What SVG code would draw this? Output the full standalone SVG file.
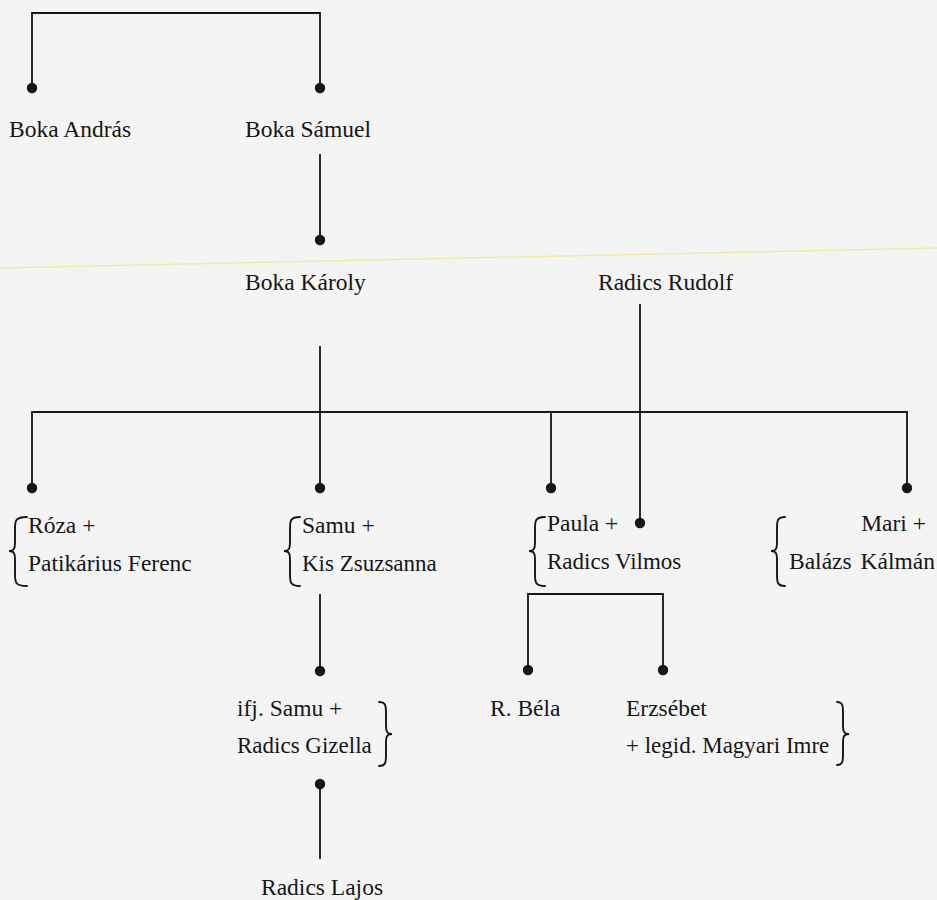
<svg xmlns="http://www.w3.org/2000/svg" width="937" height="900" viewBox="0 0 937 900">
<style>
.ln{stroke:#161616;stroke-width:1.8;fill:none;stroke-linecap:square}
.br{stroke:#161616;stroke-width:1.9;fill:none;stroke-linecap:round}
.dot{fill:#161616}
text{font-family:"Liberation Serif","Times New Roman",serif;font-size:23.5px;fill:#161616}
.sm{font-size:23px}
</style>
<rect x="0" y="0" width="937" height="900" fill="#f4f4f4"/>
<path d="M0,268 L937,248" stroke="#f3e9a6" stroke-width="1.5" fill="none"/>
<g id="connectors">
<path class="ln" d="M32,13 H320 M32,13 V88 M320,13 V88"/>
<path class="ln" d="M320,155 V240"/>
<path class="ln" d="M320,347 V412 M640,305 V523"/>
<path class="ln" d="M32,412 H907 M32,412 V488 M320,412 V488 M551,412 V488 M907,412 V488"/>
<path class="ln" d="M320,595 V671"/>
<path class="ln" d="M528,594 H663 M528,594 V670 M663,594 V670"/>
<path class="ln" d="M320,784 V858"/>
<g class="dot">
<circle cx="32" cy="88" r="5.2"/>
<circle cx="320" cy="88" r="5.2"/>
<circle cx="320" cy="240" r="5.2"/>
<circle cx="32" cy="488" r="5.2"/>
<circle cx="320" cy="488" r="5.2"/>
<circle cx="551" cy="488" r="5.2"/>
<circle cx="907" cy="488" r="5.2"/>
<circle cx="640" cy="523" r="5.2"/>
<circle cx="320" cy="671" r="5.2"/>
<circle cx="528" cy="670" r="5.2"/>
<circle cx="663" cy="670" r="5.2"/>
<circle cx="320" cy="784" r="5.2"/>
</g>
</g>
<g id="boka-andras"><text x="9" y="137" font-size="24.5">Boka András</text></g>
<g id="boka-samuel"><text x="245" y="137">Boka Sámuel</text></g>
<g id="boka-karoly"><text x="245" y="290">Boka Károly</text></g>
<g id="radics-rudolf"><text x="598" y="290">Radics Rudolf</text></g>
<g id="roza">
<path class="br" d="M27,517 C15,517 15,521 15,529 L15,541 C15,547 15,551 9,551 C15,551 15,555 15,561 L15,574 C15,582 15,586 27,586"/>
<text x="28" y="533">Róza +</text>
<text x="28" y="571">Patikárius Ferenc</text>
</g>
<g id="samu">
<path class="br" d="M300,517 C290,517 290,521 290,529 L290,541 C290,547 290,551 284,551 C290,551 290,555 290,561 L290,574 C290,582 290,586 300,586"/>
<text x="302" y="533">Samu +</text>
<text x="302" y="571" class="sm">Kis Zsuzsanna</text>
</g>
<g id="paula">
<path class="br" d="M545,517 C535,517 535,521 535,529 L535,541 C535,547 535,551 529,551 C535,551 535,555 535,561 L535,574 C535,582 535,586 545,586"/>
<text x="547" y="531">Paula +</text>
<text x="547" y="569" class="sm">Radics Vilmos</text>
</g>
<g id="mari">
<path class="br" d="M785,517 C777,517 777,521 777,529 L777,541 C777,547 777,551 771,551 C777,551 777,555 777,561 L777,574 C777,582 777,586 785,586"/>
<text x="926" y="531" text-anchor="end">Mari +</text>
<text x="789" y="569">Balázs</text>
<text x="935" y="569" text-anchor="end">Kálmán</text>
</g>
<g id="ifj-samu">
<text x="237" y="716">ifj. Samu +</text>
<text x="237" y="753" class="sm">Radics Gizella</text>
<path class="br" d="M379,702 C386,702 386,706 386,714 L386,724 C386,730 386,734 392,734 C386,734 386,738 386,744 L386,754 C386,762 386,766 379,766"/>
</g>
<g id="r-bela"><text x="490" y="716">R. Béla</text></g>
<g id="erzsebet">
<text x="626" y="716">Erzsébet</text>
<text x="626" y="753" class="sm">+ legid. Magyari Imre</text>
<path class="br" d="M837,702 C843,702 843,706 843,714 L843,724 C843,730 843,734 849,734 C843,734 843,738 843,744 L843,753 C843,761 843,765 837,765"/>
</g>
<g id="radics-lajos"><text x="261" y="895">Radics Lajos</text></g>
</svg>
